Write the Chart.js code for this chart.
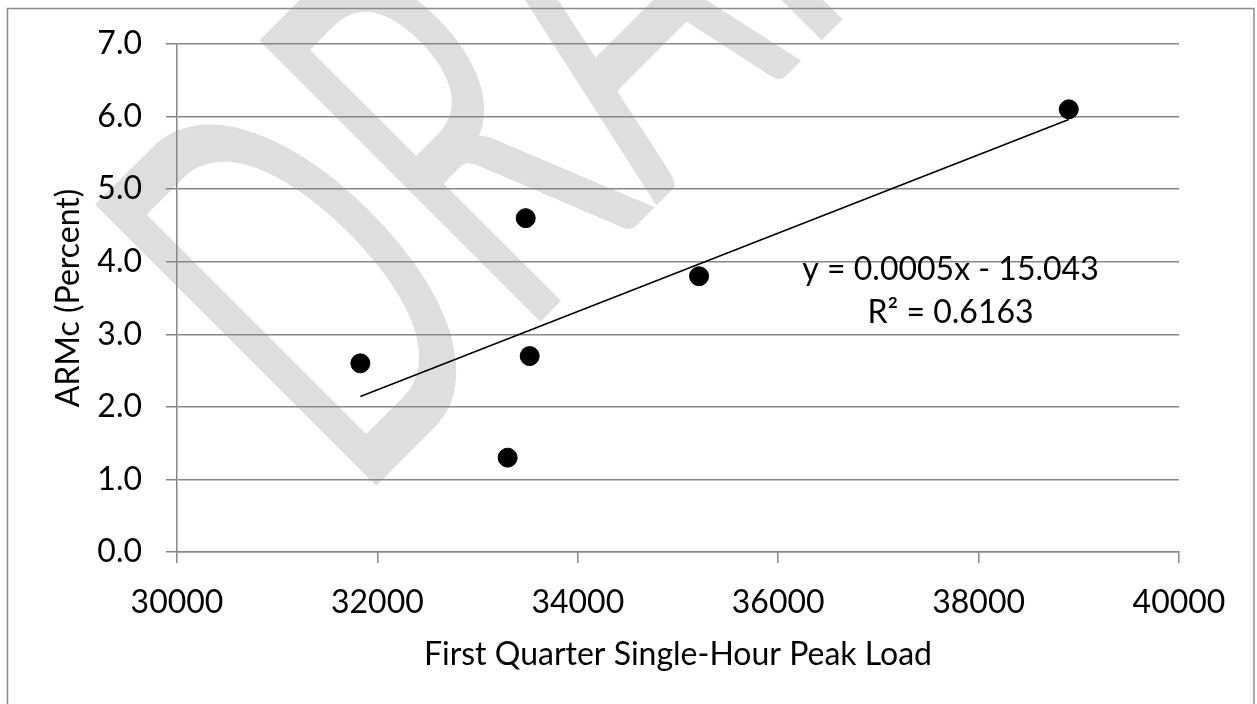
<!DOCTYPE html>
<html>
<head>
<meta charset="utf-8">
<title>ARMc vs First Quarter Peak Load</title>
<script src="https://cdn.jsdelivr.net/npm/chart.js@4.4.0/dist/chart.umd.min.js"></script>
<style>
    html, body { margin: 0; padding: 0; background: #ffffff; }
    canvas { display: block; }
</style>
</head>
<body>
<canvas id="loadChart" width="1257" height="704"></canvas>
<script>
// Observations: peak load vs ARMc
const peakLoad = [31830, 33480, 33520, 33300, 35210, 38900];
const armcPercent = [2.6, 4.6, 2.7, 1.3, 3.8, 6.1];

const xTickValues = [30000, 32000, 34000, 36000, 38000, 40000];
const yTickValues = [0, 1, 2, 3, 4, 5, 6, 7];

const trendText = ['y = 0.0005x - 15.043', 'R\u00B2 = 0.6163'];

const FONT = 'Lato';
const GRID = '#878787';

// Least squares line through the points
function linearFit(xs, ys) {
    const n = xs.length;
    const mx = xs.reduce((a, b) => a + b, 0) / n;
    const my = ys.reduce((a, b) => a + b, 0) / n;
    let sxy = 0, sxx = 0;
    for (let i = 0; i < n; i++) {
        sxy += (xs[i] - mx) * (ys[i] - my);
        sxx += (xs[i] - mx) * (xs[i] - mx);
    }
    const slope = sxy / sxx;
    return { slope: slope, intercept: my - slope * mx };
}

const fit = linearFit(peakLoad, armcPercent);
const xMin = Math.min(...peakLoad);
const xMax = Math.max(...peakLoad);
const trendPoints = [xMin, xMax].map(x => ({ x: x, y: fit.slope * x + fit.intercept }));

// Grey DRAFT watermark and the outer frame, drawn underneath the chart
const backdrop = {
    id: 'backdrop',
    beforeDraw(chart) {
        const ctx = chart.ctx;
        ctx.save();
        ctx.translate(372, 490);
        ctx.rotate(-Math.PI / 4);
        ctx.scale(0.55, 1);
        ctx.font = '400 555px ' + FONT;
        ctx.fillStyle = '#dedede';
        ctx.textBaseline = 'alphabetic';
        ctx.fillText('DRAFT', -40, 0);
        ctx.restore();

        ctx.save();
        ctx.strokeStyle = '#8c8c8c';
        ctx.lineWidth = 1.5;
        ctx.strokeRect(7.5, 8.5, 1246.5, 720);
        ctx.restore();
    }
};

// Trendline equation text
const trendLabel = {
    id: 'trendLabel',
    afterDatasetsDraw(chart) {
        const ctx = chart.ctx;
        const cx = chart.scales.x.getPixelForValue(37720);
        const cy = chart.scales.y.getPixelForValue(3.89);
        ctx.save();
        ctx.font = '32px ' + FONT;
        ctx.fillStyle = '#000000';
        ctx.textAlign = 'center';
        ctx.textBaseline = 'middle';
        trendText.forEach((t, i) => ctx.fillText(t, cx, cy + i * 43));
        ctx.restore();
    }
};

const ctx = document.getElementById('loadChart').getContext('2d');
const chart = new Chart(ctx, {
    type: 'scatter',
    data: {
        datasets: [{
            label: 'ARMc',
            data: peakLoad.map((x, i) => ({ x: x, y: armcPercent[i] })),
            backgroundColor: '#000000',
            borderColor: '#000000',
            borderWidth: 1,
            pointRadius: 9.5,
            pointHoverRadius: 9.5
        }, {
            type: 'line',
            label: 'Linear',
            data: trendPoints,
            borderColor: '#000000',
            borderWidth: 1.6,
            pointRadius: 0,
            fill: false
        }]
    },
    options: {
        responsive: false,
        animation: false,
        layout: {
            padding: { left: 0, top: 44, right: 78, bottom: 0 }
        },
        plugins: {
            legend: { display: false },
            tooltip: { enabled: false }
        },
        scales: {
            x: {
                type: 'linear',
                min: 30000,
                max: 40000,
                afterBuildTicks: scale => { scale.ticks = xTickValues.map(v => ({ value: v })); },
                afterFit: scale => { scale.height = 152; },
                grid: {
                    drawOnChartArea: false,
                    drawTicks: true,
                    tickLength: 11,
                    color: GRID,
                    lineWidth: 1.5
                },
                border: { display: true, color: GRID, width: 1.5 },
                ticks: {
                    color: '#000000',
                    padding: 20,
                    maxRotation: 0,
                    font: { family: FONT, size: 32 },
                    callback: v => String(v)
                },
                title: {
                    display: true,
                    text: 'First Quarter Single-Hour Peak Load',
                    color: '#000000',
                    font: { family: FONT, size: 32 },
                    padding: { top: 0, bottom: 30 }
                }
            },
            y: {
                min: 0,
                max: 7,
                afterBuildTicks: scale => { scale.ticks = yTickValues.map(v => ({ value: v })); },
                afterFit: scale => { scale.width = 177; },
                grid: {
                    color: GRID,
                    lineWidth: 1.5,
                    drawTicks: true,
                    tickLength: 11
                },
                border: { display: true, color: GRID, width: 1.5 },
                ticks: {
                    color: '#000000',
                    padding: 24,
                    font: { family: FONT, size: 32 },
                    callback: v => v.toFixed(1)
                },
                title: {
                    display: true,
                    text: 'ARMc (Percent)',
                    color: '#000000',
                    font: { family: FONT, size: 32 },
                    padding: { top: 49, bottom: 0 }
                }
            }
        }
    },
    plugins: [backdrop, trendLabel]
});
</script>
</body>
</html>
